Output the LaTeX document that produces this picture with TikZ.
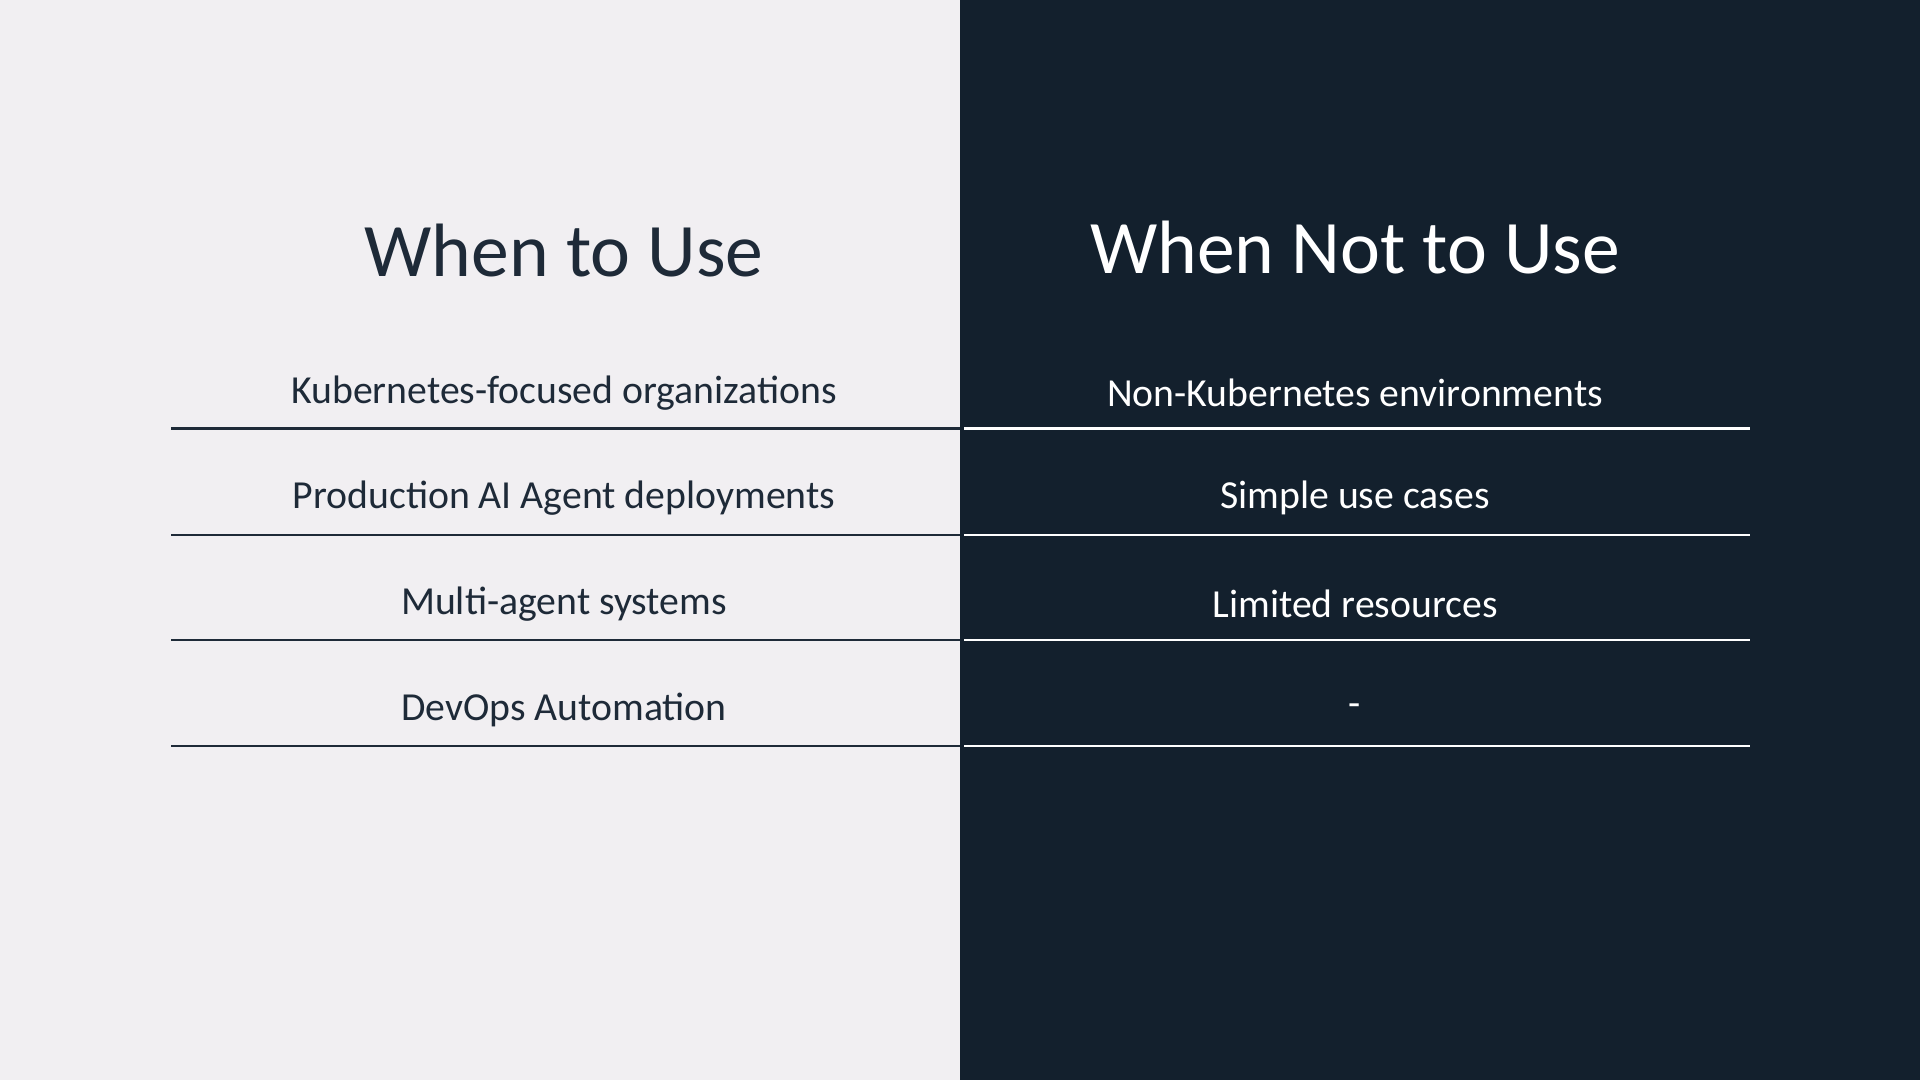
\documentclass[tikz,border=0pt]{standalone}
\usepackage{fontspec}
\setmainfont{Carlito}
\usetikzlibrary{positioning}
\definecolor{paper}{HTML}{F1EFF2}
\definecolor{navy}{HTML}{13202D}
\definecolor{ink}{HTML}{1E2A38}
\tikzset{
  title/.style={font=\fontsize{21.5}{26}\selectfont},
  item/.style={font=\fontsize{11.3}{14}\selectfont},
}
\begin{document}
\begin{tikzpicture}[x=0.01cm,y=-0.01cm]
\fill[paper] (0,0) rectangle (960,1080);
\fill[navy] (960,0) rectangle (1920,1080);
\useasboundingbox (0,0) rectangle (1920,1080);
\node[title,text=ink] (tl) at (564,251) {When to Use};
\node[title,text=white] (tr) at (1355,248) {When Not to Use};
% left column
\node[item,text=ink] (l1) at (564,393) {Kubernetes-focused organizations};
\node[item,text=ink] (l2) at (564,498) {Production AI Agent deployments};
\node[item,text=ink] (l3) at (564,604) {Multi-agent systems};
\node[item,text=ink] (l4) at (564,710) {DevOps Automation};
% right column
\node[item,text=white] (r1) at (1355,393) {Non-Kubernetes environments};
\node[item,text=white] (r2) at (1355,498) {Simple use cases};
\node[item,text=white] (r3) at (1355,604) {Limited resources};
\node[item,text=white] (r4) at (1355,710) {-};
\foreach \y in {428.6,535,640,746}{
  \draw[ink,line width=0.7pt] (171,\y) -- (960,\y);
  \draw[white,line width=0.7pt] (964,\y) -- (1750,\y);
}
\end{tikzpicture}
\end{document}
